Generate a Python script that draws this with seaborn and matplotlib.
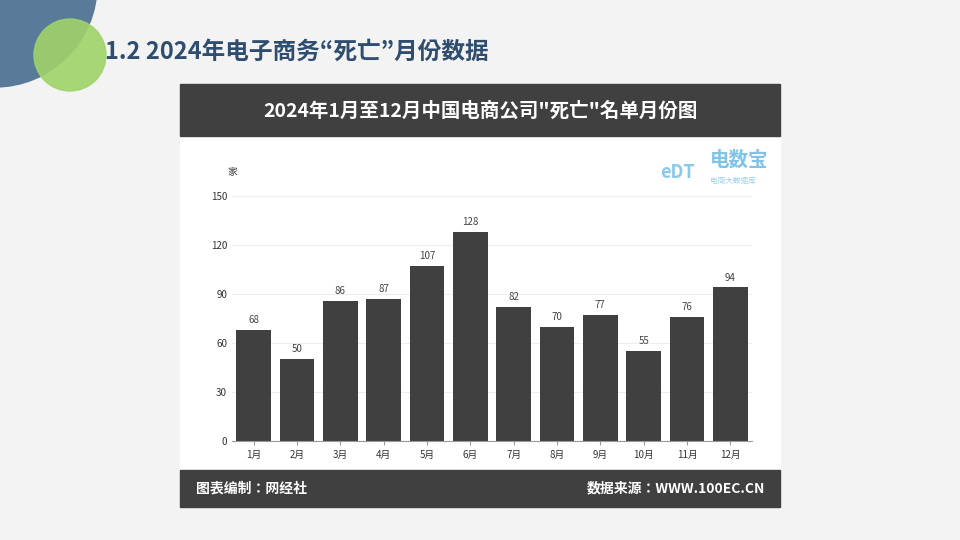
import matplotlib
matplotlib.use("Agg")
import matplotlib.pyplot as plt
import matplotlib.patches as mpatches
from matplotlib import font_manager
import seaborn as sns
import pandas as pd

# pick up a CJK font by file, since the family name lookup may miss it
cjk = [f for f in font_manager.findSystemFonts() if "CJK" in f or "cjk" in f.lower()]
for f in cjk:
    try:
        font_manager.fontManager.addfont(f)
    except Exception:
        pass
names = sorted({font_manager.FontProperties(fname=f).get_name() for f in cjk})
sc = [n for n in names if "SC" in n] or names
plt.rcParams["font.family"] = sc[:1] + ["DejaVu Sans"]

months = ["1月", "2月", "3月", "4月", "5月", "6月", "7月", "8月", "9月", "10月", "11月", "12月"]
counts = [68, 50, 86, 87, 107, 128, 82, 70, 77, 55, 76, 94]
y_ticks = [0, 30, 60, 90, 120, 150]

W, H = 960, 540
fig = plt.figure(figsize=(9.6, 5.4), dpi=100)
fig.patch.set_facecolor("#f3f3f3")

def box(x0, y0, x1, y1):
    # pixel box (top-left origin) -> figure fraction rect
    return [x0 / W, 1 - y1 / H, (x1 - x0) / W, (y1 - y0) / H]

# decorative circles
deco = fig.add_axes([0, 0, 1, 1])
deco.set_xlim(0, W); deco.set_ylim(H, 0); deco.axis("off")
deco.add_patch(mpatches.Circle((-5, -15), 102, color="#5a7a99"))
deco.add_patch(mpatches.Circle((70, 55), 36, color="#9fd36a", alpha=0.9))
deco.text(105, 52, "1.2 2024年电子商务“死亡”月份数据", fontsize=17, fontweight="bold",
          color="#2f4d6e", va="center")

# panel
deco.add_patch(mpatches.Rectangle((180, 84), 600, 423, color="white"))
deco.add_patch(mpatches.Rectangle((180, 84), 600, 52, color="#404040"))
deco.add_patch(mpatches.Rectangle((180, 470), 600, 37, color="#404040"))
deco.text(480, 111, '2024年1月至12月中国电商公司"死亡"名单月份图', fontsize=14,
          fontweight="bold", color="white", ha="center", va="center")
deco.text(196, 489, "图表编制：网经社", fontsize=10, fontweight="bold", color="white", va="center")
deco.text(765, 489, "数据来源：WWW.100EC.CN", fontsize=10, fontweight="bold", color="white",
          va="center", ha="right")
deco.text(710, 160, "电数宝", fontsize=14, fontweight="bold", color="#7fc3e8", va="center")
deco.text(710, 181, "电商大数据库", fontsize=5.5, color="#9fd0ea", va="center")
deco.text(660, 172, "eDT", fontsize=13, fontweight="bold", color="#8cc8ea", va="center")
deco.text(232, 172, "家", fontsize=7, color="#333333", ha="center", va="center")

ax = fig.add_axes(box(232, 196, 752, 441))
df = pd.DataFrame({"month": months, "count": counts})
sns.barplot(data=df, x="month", y="count", color="#404040", width=0.8, ax=ax, saturation=1)
for i, v in enumerate(counts):
    ax.text(i, v + 3, str(v), ha="center", va="bottom", fontsize=7, color="#444444")
ax.set_ylim(0, 150)
ax.set_yticks(y_ticks)
ax.tick_params(axis="both", labelsize=7, colors="#333333", length=0)
ax.tick_params(axis="x", length=3, color="#999999")
ax.set_xlabel(""); ax.set_ylabel("")
ax.grid(axis="y", color="#eeeeee", linewidth=0.8)
ax.set_axisbelow(True)
for s in ["top", "right", "left"]:
    ax.spines[s].set_visible(False)
ax.spines["bottom"].set_color("#999999")
ax.set_facecolor("white")

fig.savefig("out.png", dpi=100)
